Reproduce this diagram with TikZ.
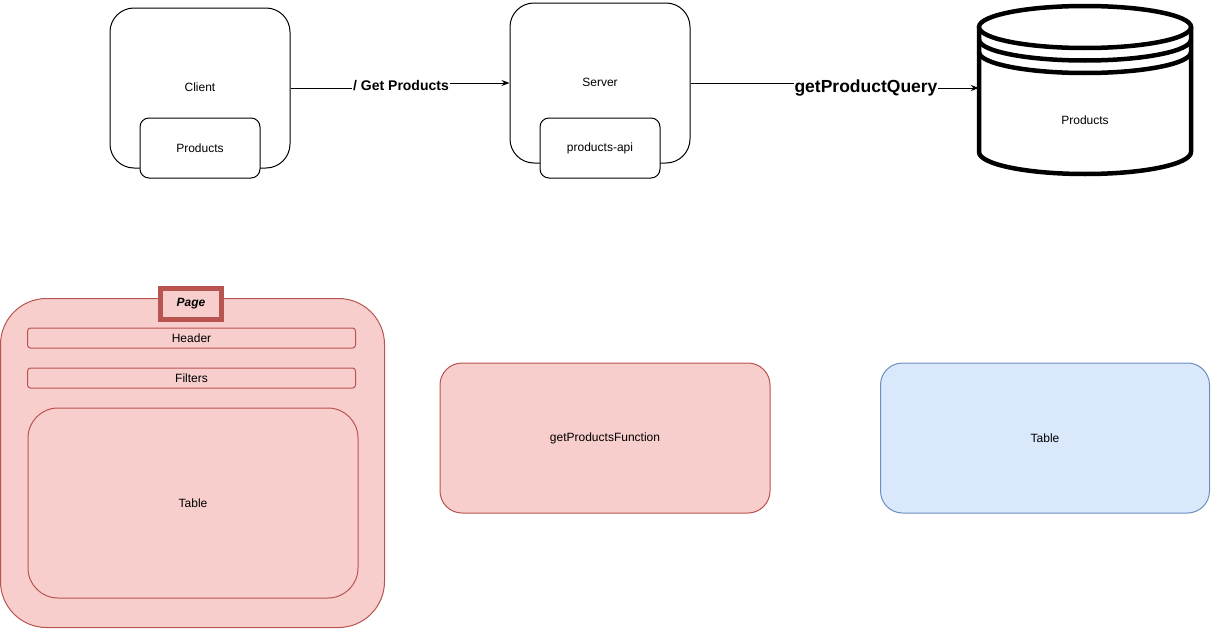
\documentclass[tikz,border=0pt]{standalone}
\usepackage{fontspec}
\setmainfont{Liberation Sans}
\usetikzlibrary{arrows.meta}
\definecolor{redfill}{HTML}{F8CECC}
\definecolor{redline}{HTML}{B85450}
\definecolor{bluefill}{HTML}{DAE8FC}
\definecolor{blueline}{HTML}{6C8EBF}
\begin{document}
\begin{tikzpicture}[x=1pt,y=-1pt,
  base/.style={rectangle, inner sep=0pt, line width=1pt, font=\fontsize{12}{14}\selectfont},
  whitebox/.style={base, draw=black, fill=white},
  redbox/.style={base, draw=redline, fill=redfill},
  bluebox/.style={base, draw=blueline, fill=bluefill},
  txt/.style={inner sep=0pt, font=\fontsize{12}{14}\selectfont},
  conn/.style={line width=1pt, -{Stealth[length=8pt,width=6pt]}},
  edgelbl/.style={fill=white, inner sep=1pt, font=\bfseries}
]
\useasboundingbox (0,0) rectangle (1211,629);

% top row
\node[whitebox, rounded corners=24pt, minimum width=180pt, minimum height=160pt] (client) at (200,88) {};
\node[txt] (clientlbl) at (200,87) {Client};
\node[whitebox, rounded corners=9pt, minimum width=120pt, minimum height=60pt] (cprod) at (200,148) {Products};

\node[whitebox, rounded corners=24pt, minimum width=180pt, minimum height=160pt] (server) at (600,83) {};
\node[txt] (serverlbl) at (600,82) {Server};
\node[whitebox, rounded corners=9pt, minimum width=120pt, minimum height=60pt] (api) at (600,148) {products-api};

% database cylinder
\node[rectangle, inner sep=0pt, minimum width=212pt, minimum height=170pt] (db) at (1085,88) {};
\filldraw[fill=white, draw=black, line width=4.5pt, line join=round]
  (979,27) -- (979,152) arc[start angle=180, end angle=360, x radius=106pt, y radius=22pt] -- (1191,27) -- cycle;
\filldraw[fill=white, draw=black, line width=4.5pt] (1085,27) ellipse [x radius=106pt, y radius=21pt];
\draw[line width=4.5pt] (979,39.5) arc[start angle=180, end angle=360, x radius=106pt, y radius=21pt];
\draw[line width=4.5pt] (979,52) arc[start angle=180, end angle=360, x radius=106pt, y radius=21pt];
\node[txt] (dblbl) at (1085,120) {Products};

% connectors
\draw[conn] (client.east) -- ++(110,0) |- (server.west);
\node[edgelbl, font=\bfseries\fontsize{14}{16}\selectfont] (lbl1) at (401,86) {/ Get Products};
\draw[conn] (server.east) -- ++(144,0) |- (db.west);
\node[edgelbl, font=\bfseries\fontsize{17.5}{20}\selectfont] (lbl2) at (866,88) {getProductQuery};

% bottom row
\node[redbox, rounded corners=46pt, minimum width=384pt, minimum height=329pt] (page) at (192.5,463) {};
\node[base, draw=redline, fill=redfill, line width=5pt, minimum width=61pt, minimum height=31pt,
      font=\bfseries\itshape\fontsize{12}{14}\selectfont] (pagelbl) at (191,303.5) {Page};
\node[redbox, rounded corners=3pt, minimum width=328pt, minimum height=20pt] (header) at (191.5,338) {Header};
\node[redbox, rounded corners=3pt, minimum width=328pt, minimum height=20pt] (filters) at (191.5,378) {Filters};
\node[redbox, rounded corners=30pt, minimum width=330pt, minimum height=190pt] (ptable) at (193,503) {Table};

\node[redbox, rounded corners=22pt, minimum width=330pt, minimum height=150pt] (func) at (605,438) {getProductsFunction};
\node[bluebox, rounded corners=22pt, minimum width=329pt, minimum height=150pt] (btable) at (1045,438) {Table};
\end{tikzpicture}
\end{document}
